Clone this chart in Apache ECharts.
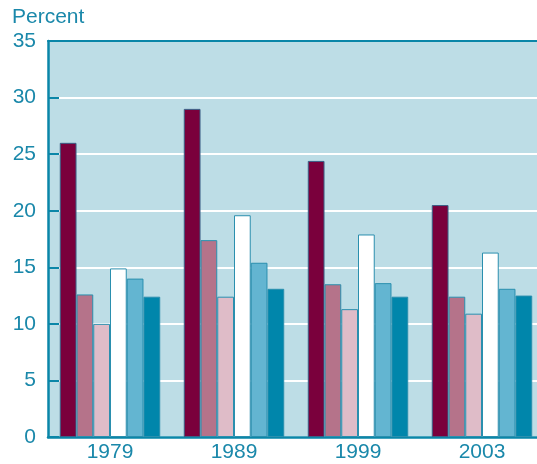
<!DOCTYPE html>
<html>
<head>
<meta charset="utf-8">
<script src="https://cdn.jsdelivr.net/npm/echarts@6/dist/echarts.min.js"></script>
<style>
  html, body { margin: 0; padding: 0; background: #fff; }
  #chart { width: 537px; height: 464px; }
</style>
</head>
<body>
<div id="chart"></div>
<script>
const years = ['1979', '1989', '1999', '2003']
const s1 = [26.0, 29.0, 24.4, 20.5]
const s2 = [12.6, 17.4, 13.5, 12.4]
const s3 = [10.0, 12.4, 11.3, 10.9]
const s4 = [14.9, 19.6, 17.9, 16.3]
const s5 = [14.0, 15.4, 13.6, 13.1]
const s6 = [12.4, 13.1, 12.4, 12.5]
const yTicks = [0, 5, 10, 15, 20, 25, 30, 35]

const seriesData = [s1, s2, s3, s4, s5, s6]
const colors = ['#7a003c', '#b5738a', '#dfbcc8', '#ffffff', '#63b5d1', '#0086ab']
const textColor = '#1a88aa'
const axisColor = '#0a86a8'

const chart = echarts.init(document.getElementById('chart'))
const option = {
  animation: false,
  title: {
    text: 'Percent',
    left: 12,
    top: 7,
    padding: 0,
    textStyle: { color: textColor, fontSize: 21, fontWeight: 'normal', fontFamily: 'Liberation Sans' }
  },
  grid: {
    left: 48,
    width: 496,
    top: 41,
    bottom: 27,
    outerBoundsMode: 'none',
    show: true,
    backgroundColor: '#bddde6',
    borderWidth: 0
  },
  xAxis: [
    {
      type: 'category',
      data: years,
      axisLine: { lineStyle: { color: axisColor, width: 2.5 } },
      axisTick: { show: false },
      axisLabel: { color: textColor, fontSize: 21, margin: 5, fontFamily: 'Liberation Sans' }
    },
    {
      // top border of the plot
      type: 'category',
      position: 'top',
      data: years,
      axisLine: { lineStyle: { color: axisColor, width: 2 } },
      axisTick: { show: false },
      axisLabel: { show: false }
    }
  ],
  yAxis: {
    type: 'value',
    min: yTicks[0],
    max: yTicks[yTicks.length - 1],
    interval: 5,
    axisLine: { show: true, lineStyle: { color: axisColor, width: 2.5 } },
    axisTick: { show: true, inside: true, length: 11, lineStyle: { color: axisColor, width: 2 } },
    axisLabel: { color: textColor, fontSize: 21, margin: 12, fontFamily: 'Liberation Sans' },
    splitLine: { lineStyle: { color: '#ffffff', width: 2 } }
  },
  series: seriesData.map((d, i) => ({
    type: 'bar',
    data: d,
    barGap: '0%',
    barCategoryGap: '19%',
    itemStyle: {
      color: colors[i],
      borderColor: i === 0 ? '#3a5f86' : '#2a8fae',
      borderWidth: 1
    }
  }))
}
chart.setOption(option)
</script>
</body>
</html>
